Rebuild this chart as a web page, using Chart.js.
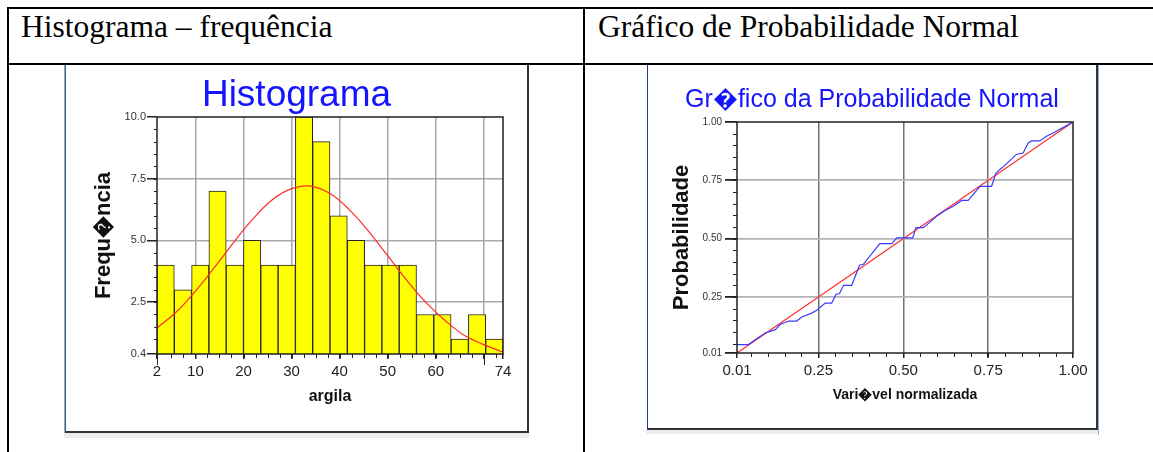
<!DOCTYPE html>
<html>
<head>
<meta charset="utf-8">
<title>Histograma e Probabilidade Normal</title>
<script src="https://cdn.jsdelivr.net/npm/chart.js@4"></script>
<style>
  body { margin: 0; width: 1153px; height: 452px; overflow: hidden; position: relative; background: #fff;
         font-family: "Liberation Serif", "Times New Roman", serif; }
  .ln { position: absolute; background: #000; }
  .head { position: absolute; top: 11px; font-size: 31.5px; line-height: 31px; color: #000; white-space: nowrap; }
  .box { position: absolute; top: 65px; border-right: 2px solid #333; border-bottom: 2px solid #333; }
  .box canvas { display: block; }
</style>
</head>
<body>
<!-- table lines -->
<div class="ln" style="left:7px;top:7px;width:1146px;height:2px"></div>
<div class="ln" style="left:7px;top:7px;width:2px;height:445px"></div>
<div class="ln" style="left:7px;top:63px;width:1146px;height:2px"></div>
<div class="ln" style="left:583px;top:7px;width:2px;height:445px"></div>

<div class="head" style="left:21px">Histograma – frequência</div>
<div class="head" style="left:598px">Gráfico de Probabilidade Normal</div>

<!-- picture frames -->
<div class="ln" style="left:64px;top:65px;width:1px;height:373px;background:#7eaee6"></div>
<div class="ln" style="left:64px;top:433px;width:465px;height:5px;background:#ececec"></div>
<div class="box" style="left:65px;border-left:1px solid #555">
  <canvas id="histChart" width="461" height="366"></canvas>
</div>

<div class="ln" style="left:646px;top:430px;width:452px;height:4px;background:#ececec"></div>
<div class="box" style="left:647px;border-left:1px solid #1d3f8a">
  <canvas id="probChart" width="448" height="363"></canvas>
</div>
<div class="ln" style="left:1098px;top:65px;width:1px;height:370px;background:#7eaee6"></div>

<script>
// histograma (argila)
const histBinMid = [3.8, 7.4, 11, 14.6, 18.2, 21.8, 25.4, 29, 32.6, 36.2, 39.8, 43.4, 47, 50.6, 54.2, 57.8, 61.4, 65, 68.6, 72.2];
const histFreq   = [4, 3, 4, 7, 4, 5, 4, 4, 10, 9, 6, 5, 4, 4, 4, 2, 2, 1, 2, 1];
const normX = [2, 6, 10, 14, 18, 22, 26, 30, 34, 38, 42, 46, 50, 54, 58, 62, 66, 70, 74];
const normY = [1.45, 2.1, 2.95, 3.92, 4.93, 5.88, 6.65, 7.1, 7.2, 6.9, 6.25, 5.38, 4.38, 3.38, 2.48, 1.75, 1.15, 0.78, 0.48];
const histXTicks  = [2, 10, 20, 30, 40, 50, 60, 70, 74];
const histXLabels = ['2', '10', '20', '30', '40', '50', '60', '', '74'];
const histYTicks  = [0.4, 2.5, 5, 7.5, 10];
const histYLabels = ['0.4', '2.5', '5.0', '7.5', '10.0'];

// grafico de probabilidade normal
const probX = [0.01, 0.044, 0.069, 0.093, 0.123, 0.137, 0.162, 0.186, 0.201, 0.23, 0.245, 0.27, 0.289, 0.302, 0.312,
               0.324, 0.348, 0.371, 0.382, 0.431, 0.466, 0.481, 0.528, 0.537, 0.559, 0.579, 0.598, 0.623, 0.647, 0.672,
               0.691, 0.726, 0.76, 0.773, 0.799, 0.833, 0.853, 0.868, 0.878, 0.902, 0.922, 0.947, 1.0];
const probY = [0.046, 0.046, 0.072, 0.096, 0.11, 0.132, 0.147, 0.147, 0.164, 0.181, 0.193, 0.224, 0.224, 0.262, 0.265,
               0.3, 0.3, 0.386, 0.39, 0.479, 0.479, 0.503, 0.503, 0.547, 0.547, 0.571, 0.596, 0.621, 0.639, 0.664,
               0.664, 0.724, 0.724, 0.781, 0.814, 0.861, 0.867, 0.91, 0.919, 0.919, 0.939, 0.957, 1.0];
const refX = [0.01, 1.0];
const refY = [0.01, 1.0];
const probTicks  = [0.01, 0.25, 0.5, 0.75, 1.0];
const probLabels = ['0.01', '0.25', '0.50', '0.75', '1.00'];

Chart.defaults.font.family = 'Arial, "Liberation Sans", Helvetica, sans-serif';
Chart.defaults.color = '#222';

function steps(from, to, step) {
  const out = [];
  for (let v = from; v <= to + 1e-9; v += step) out.push(+v.toFixed(4));
  return out;
}

// box round the plot area
const frame = {
  id: 'frame',
  afterDatasetsDraw(chart) {
    const a = chart.chartArea, ctx = chart.ctx;
    ctx.save();
    ctx.strokeStyle = '#222';
    ctx.lineWidth = 1.5;
    ctx.strokeRect(a.left, a.top, a.right - a.left, a.bottom - a.top);
    ctx.restore();
  }
};

// small ticks between the labelled ones
const minorTicks = {
  id: 'minorTicks',
  afterDraw(chart, args, opts) {
    const a = chart.chartArea, ctx = chart.ctx;
    ctx.save();
    ctx.strokeStyle = '#222';
    ctx.lineWidth = 1;
    (opts.marks || []).forEach(m => {
      const s = chart.scales[m.axis];
      m.values.forEach(v => {
        const p = Math.round(s.getPixelForValue(v)) + 0.5;
        ctx.beginPath();
        if (s.isHorizontal()) { ctx.moveTo(p, a.bottom); ctx.lineTo(p, a.bottom + m.len); }
        else { ctx.moveTo(a.left, p); ctx.lineTo(a.left - m.len, p); }
        ctx.stroke();
      });
    });
    ctx.restore();
  }
};

function setTicks(values) {
  return scale => { scale.ticks = values.map(v => ({ value: v })); };
}

// empty right axis, only keeps room right of the plot so the title stays centred on the picture
function spacer(width) {
  return {
    type: 'linear',
    position: 'right',
    grid: { display: false, drawTicks: false },
    border: { display: false },
    ticks: { display: false },
    afterFit: s => { s.width = width; }
  };
}

// Histograma
new Chart(document.getElementById('histChart'), {
  type: 'bar',
  data: {
    datasets: [
      {
        type: 'line',
        data: normX.map((x, i) => ({ x: x, y: normY[i] })),
        borderColor: '#ff2b2b',
        borderWidth: 1.2,
        pointRadius: 0,
        tension: 0.4,
        fill: false
      },
      {
        type: 'bar',
        data: histBinMid.map((x, i) => ({ x: x, y: histFreq[i] })),
        backgroundColor: '#ffff00',
        borderColor: '#222',
        borderWidth: 1,
        barPercentage: 1,
        categoryPercentage: 1
      }
    ]
  },
  plugins: [frame, minorTicks],
  options: {
    responsive: false,
    animation: false,
    layout: { padding: 0 },
    plugins: {
      legend: { display: false },
      tooltip: { enabled: false },
      title: {
        display: true,
        text: 'Histograma',
        color: '#1414ff',
        font: { size: 37, weight: 'normal', lineHeight: 1.135 },
        padding: { top: 10, bottom: 0 }
      },
      minorTicks: {
        marks: [
          { axis: 'x', values: steps(5, 72.5, 2.5), len: 4 },
          { axis: 'x', values: [2, 70], len: 11 },
          { axis: 'y', values: steps(1, 9.5, 0.5), len: 3 }
        ]
      }
    },
    scales: {
      x: {
        type: 'linear',
        min: 2,
        max: 74,
        offset: false,
        afterBuildTicks: setTicks(histXTicks),
        afterFit: s => { s.height = 77; },
        border: { display: false },
        grid: {
          offset: false,
          color: c => (c.tick.value === 2 || c.tick.value === 74) ? 'rgba(0,0,0,0)' : '#a8a8a8',
          lineWidth: 1.5,
          tickColor: '#222',
          tickLength: 5
        },
        ticks: {
          autoSkip: false,
          maxRotation: 0,
          padding: 4,
          color: '#222',
          font: { size: 15, lineHeight: 1.2 },
          callback: (v, i) => histXLabels[i]
        },
        title: {
          display: true,
          text: 'argila',
          color: '#111',
          font: { size: 16, weight: 'bold', lineHeight: 1.2 },
          padding: { top: 0, bottom: 24.7 }
        }
      },
      y: {
        min: 0.4,
        max: 10,
        afterBuildTicks: setTicks(histYTicks),
        afterFit: s => { s.width = 91; },
        border: { display: false },
        grid: {
          color: c => (c.tick.value === 0.4 || c.tick.value === 10) ? 'rgba(0,0,0,0)' : '#a8a8a8',
          lineWidth: 1.5,
          tickColor: '#222',
          tickLength: 10
        },
        ticks: {
          autoSkip: false,
          padding: 1,
          color: '#333',
          font: { size: 11 },
          callback: (v, i) => histYLabels[i]
        },
        title: {
          display: true,
          text: 'Frequ\uFFFDncia',
          color: '#111',
          font: { size: 22, weight: 'bold', lineHeight: 1.2 },
          padding: { top: 25, bottom: 0 }
        }
      },
      yr: spacer(24)
    }
  }
});

// Grafico de probabilidade normal
new Chart(document.getElementById('probChart'), {
  type: 'line',
  data: {
    datasets: [
      {
        data: probX.map((x, i) => ({ x: x, y: probY[i] })),
        borderColor: '#3a3aff',
        borderWidth: 1.2,
        pointRadius: 0,
        tension: 0,
        fill: false
      },
      {
        data: refX.map((x, i) => ({ x: x, y: refY[i] })),
        borderColor: '#ff3030',
        borderWidth: 1.2,
        pointRadius: 0,
        tension: 0,
        fill: false
      }
    ]
  },
  plugins: [frame, minorTicks],
  options: {
    responsive: false,
    animation: false,
    layout: { padding: 0 },
    plugins: {
      legend: { display: false },
      tooltip: { enabled: false },
      title: {
        display: true,
        text: 'Gr\uFFFDfico da Probabilidade Normal',
        color: '#1414ff',
        font: { size: 25, weight: 'normal', lineHeight: 1.2 },
        padding: { top: 20, bottom: 7 }
      },
      minorTicks: {
        marks: [
          { axis: 'x', values: steps(0.05, 0.95, 0.05), len: 4 },
          { axis: 'y', values: steps(0.05, 0.95, 0.05), len: 4 }
        ]
      }
    },
    scales: {
      x: {
        type: 'linear',
        min: 0.01,
        max: 1,
        afterBuildTicks: setTicks(probTicks),
        afterFit: s => { s.height = 75; },
        border: { display: false },
        grid: {
          color: c => (c.tick.value === 0.01 || c.tick.value === 1) ? 'rgba(0,0,0,0)' : '#707070',
          lineWidth: 1.5,
          tickColor: '#222',
          tickLength: 5
        },
        ticks: {
          autoSkip: false,
          maxRotation: 0,
          padding: 4,
          color: '#222',
          font: { size: 15, lineHeight: 1.2 },
          callback: (v, i) => probLabels[i]
        },
        title: {
          display: true,
          text: 'Vari\uFFFDvel normalizada',
          color: '#111',
          font: { size: 14, weight: 'bold', lineHeight: 1.2 },
          padding: { top: 0, bottom: 24.6 }
        }
      },
      y: {
        min: 0.01,
        max: 1,
        afterBuildTicks: setTicks(probTicks),
        afterFit: s => { s.width = 89; },
        border: { display: false },
        grid: {
          color: c => (c.tick.value === 0.01 || c.tick.value === 1) ? 'rgba(0,0,0,0)' : '#b4b4b4',
          lineWidth: 1.8,
          tickColor: '#222',
          tickLength: 12
        },
        ticks: {
          autoSkip: false,
          padding: 3,
          color: '#333',
          font: { size: 10 },
          callback: (v, i) => probLabels[i]
        },
        title: {
          display: true,
          text: 'Probabilidade',
          color: '#111',
          font: { size: 22, weight: 'bold', lineHeight: 1.2 },
          padding: { top: 20.5, bottom: 0 }
        }
      },
      yr: spacer(23)
    }
  }
});
</script>
</body>
</html>
